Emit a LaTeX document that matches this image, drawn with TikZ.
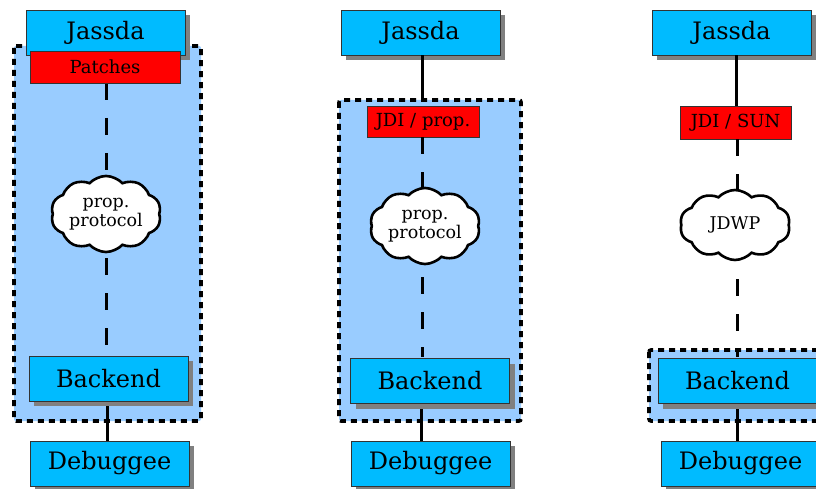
\documentclass[tikz,border=0pt]{standalone}
\usepackage{fontspec}
\setmainfont{DejaVu Serif}
\usetikzlibrary{shapes.symbols,shadows}
\definecolor{boxblue}{HTML}{00BBFF}
\definecolor{zoneblue}{HTML}{99CCFF}
\definecolor{shadowgray}{HTML}{808080}
\tikzset{
  compbox/.style={draw=black!80, line width=0.8pt, fill=boxblue,
    minimum width=159pt, minimum height=45pt, inner sep=0pt,
    font=\fontsize{24}{28}\selectfont,
    drop shadow={shadow xshift=5pt, shadow yshift=-5pt, fill=shadowgray, opacity=1}},
  apibox/.style={draw=black!80, line width=0.8pt, fill=red, inner sep=0pt,
    minimum height=32pt, font=\fontsize{18}{20}\selectfont},
  netcloud/.style={cloud, cloud puffs=10, cloud puff arc=95, aspect=1.6,
    draw=black, line width=2.6pt, fill=white, inner sep=0pt,
    minimum width=110pt, minimum height=70pt, align=center,
    font=\fontsize{17.5}{19}\selectfont},
  zone/.style={fill=zoneblue, draw=black, line width=3.6pt,
    dash pattern=on 6pt off 5pt, rounded corners=2pt},
  wire/.style={line width=3pt},
  netwire/.style={line width=3pt, dash pattern=on 17pt off 18pt}
}
\begin{document}
\begin{tikzpicture}[x=1pt,y=-1pt]
  \useasboundingbox (0,0) rectangle (816,489);
  \clip (0,0) rectangle (816,489);

  % shaded zones (what runs inside one process)
  \path[zone] (14,46) rectangle (201,421);
  \path[zone] (339,100) rectangle (521,421);
  \path[zone] (649,350) rectangle (830,421);

  % first variant: patched Jassda
  \node[compbox] (j1) at (105.5,32.5) {Jassda};
  \node[apibox, minimum width=150pt] (a1) at (105,67) {Patches};
  \node[compbox] (b1) at (108.5,378.5) {Backend};
  \node[compbox] (d1) at (109.5,463.5) {Debuggee};
  \coordinate (c1pos) at (106,214);

  % second variant: JDI with a proprietary protocol
  \node[compbox] (j2) at (420.5,32.5) {Jassda};
  \node[apibox, minimum width=112pt, minimum height=31pt] (a2) at (423,121.5) {JDI / prop.};
  \node[compbox] (b2) at (430,381) {Backend};
  \node[compbox] (d2) at (430.5,463.5) {Debuggee};
  \coordinate (c2pos) at (425,226);

  % third variant: JDI over JDWP
  \node[compbox] (j3) at (731.5,32.5) {Jassda};
  \node[apibox, minimum width=111pt, minimum height=33pt] (a3) at (735.5,122.5) {JDI / SUN};
  \node[compbox] (b3) at (737.5,381) {Backend};
  \node[compbox] (d3) at (740.5,463.5) {Debuggee};
  \coordinate (c3pos) at (735,225);

  % connectors
  \draw[netwire] (106,83) -- (106,355);
  \draw[wire] (b1.south -| 107,0) -- (d1.north -| 107,0);

  \draw[wire] (j2.south -| 422,0) -- (422,100);
  \draw[netwire] (a2.south -| 422,0) -- (422,357);
  \draw[wire] (b2.south -| 421,0) -- (d2.north -| 421,0);

  \draw[wire] (j3.south -| 736,0) -- (a3.north -| 736,0);
  \draw[netwire] (a3.south -| 737,0) -- (737,357);
  \draw[wire] (b3.south -| 737,0) -- (d3.north -| 737,0);

  % boxes on top of the lines
  \node[compbox] at (j1) {Jassda};
  \node[apibox, minimum width=150pt] at (a1) {Patches};
  \node[compbox] at (b1) {Backend};
  \node[compbox] at (d1) {Debuggee};
  \node[compbox] at (b2) {Backend};
  \node[compbox] at (d2) {Debuggee};
  \node[compbox] at (b3) {Backend};
  \node[compbox] at (d3) {Debuggee};

  % protocol clouds
  \node[netcloud] (c1) at (c1pos) {prop.\\protocol};
  \node[netcloud] (c2) at (c2pos) {prop.\\protocol};
  \node[netcloud] (c3) at (c3pos) {JDWP};
\end{tikzpicture}
\end{document}
